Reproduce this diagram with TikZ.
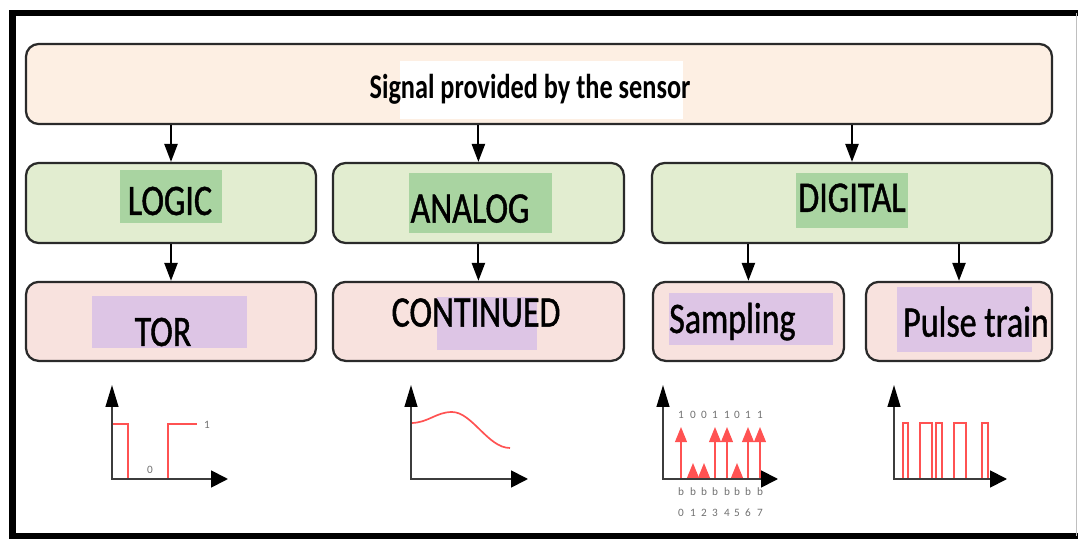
\documentclass[tikz,border=0pt]{standalone}
\usepackage{fontspec}
\setmainfont{Carlito}
\newfontfamily\boxfont[FakeStretch=0.78,FakeBold=1]{Carlito}
\newfontfamily\headfont[FakeStretch=0.76]{Carlito}
\usepackage{tikz}
\usetikzlibrary{arrows.meta}
\definecolor{peach}{HTML}{FDEFE3}
\definecolor{leaf}{HTML}{E2EDD0}
\definecolor{leafhl}{HTML}{A9D4A1}
\definecolor{rose}{HTML}{F8E2DE}
\definecolor{lilac}{HTML}{DDC5E5}
\definecolor{edge}{HTML}{2A2A2A}
\definecolor{sig}{HTML}{FF5252}
\definecolor{axisgray}{HTML}{3C3C3C}
\definecolor{tick}{HTML}{707070}

\begin{document}
\begin{tikzpicture}[
  box/.style={draw=edge, line width=1.6pt, rounded corners=9pt, inner sep=0pt},
  sigbox/.style={box, fill=peach, minimum width=25.65cm, minimum height=2cm},
  typebox/.style={box, fill=leaf, minimum height=2cm},
  formbox/.style={box, fill=rose, minimum height=1.975cm},
  lbl/.style={font=\boxfont\fontsize{31}{31}\selectfont, inner sep=0pt, anchor=base},
  link/.style={-{Triangle[length=0.45cm,width=0.33cm]}, line width=1.4pt},
  axes/.style={{Triangle[length=0.55cm,width=0.32cm,color=black]}-{Triangle[length=0.42cm,width=0.42cm,color=black]}, draw=axisgray, line width=1.3pt},
  wave/.style={draw=sig, line width=1.2pt},
  spike/.style={-{Triangle[length=0.38cm,width=0.3cm]}, draw=sig, fill=sig, line width=0.9pt},
  tiny/.style={font=\fontsize{8}{8}\selectfont, text=tick, inner sep=0pt}
]
  \useasboundingbox (0,0) rectangle (26.95,13.475);

  % Frame of the screenshot
  \draw[line width=0.17cm] (26.95,13.15) -- (0.31,13.15) -- (0.31,0.075) -- (26.95,0.075);
  \draw[gray!50, line width=0.4pt] (26.91,13.15) -- (26.91,0.075);

  % Boxes
  \node[sigbox] (signal) at (13.475,11.375) {};
  \node[typebox, minimum width=7.25cm] (logic) at (4.275,8.4) {};
  \node[typebox, minimum width=7.275cm] (analog) at (11.96,8.4) {};
  \node[typebox, minimum width=10cm] (digital) at (21.3,8.4) {};
  \node[formbox, minimum width=7.25cm] (tor) at (4.275,5.44) {};
  \node[formbox, minimum width=7.275cm] (continued) at (11.96,5.44) {};
  \node[formbox, minimum width=4.775cm] (sampling) at (18.71,5.44) {};
  \node[formbox, minimum width=4.65cm] (pulse) at (23.975,5.44) {};

  % Highlights behind the labels
  \fill[white] (10.0,10.5) rectangle (17.075,11.95);
  \fill[leafhl] (3.0,7.9) rectangle (5.55,9.225);
  \fill[leafhl] (10.225,7.65) rectangle (13.8,9.15);
  \fill[leafhl] (19.9,7.775) rectangle (22.7,9.15);
  \fill[lilac] (2.3,4.775) rectangle (6.175,6.075);
  \fill[lilac] (10.925,4.725) rectangle (13.425,6.05);
  \fill[lilac] (16.725,4.85) rectangle (20.825,6.15);
  \fill[lilac] (22.425,4.675) rectangle (25.8,6.3);

  % Labels
  \node[lbl, font=\headfont\bfseries\fontsize{24.6}{25}\selectfont] (signaltxt) at (13.25,11.0) {Signal provided by the sensor};
  \node[lbl] (logictxt) at (4.25,8.1) {LOGIC};
  \node[lbl] (analogtxt) at (11.75,7.91) {ANALOG};
  \node[lbl] (digitaltxt) at (21.3,8.18) {DIGITAL};
  \node[lbl] (tortxt) at (4.075,4.825) {TOR};
  \node[lbl] (continuedtxt) at (11.9,5.31) {CONTINUED};
  \node[lbl] (samplingtxt) at (18.31,5.15) {Sampling};
  \node[lbl] (pulsetxt) at (24.4,5.06) {Pulse train};

  % Connectors
  \draw[link] (signal.south -| logic.north) -- (logic.north);
  \draw[link] (signal.south -| analog.north) -- (analog.north);
  \draw[link] (signal.south -| digital.north) -- (digital.north);
  \draw[link] (logic.south) -- (tor.north);
  \draw[link] (analog.south) -- (continued.north);
  \draw[link] (digital.south -| sampling.north) -- (sampling.north);
  \draw[link] (digital.south -| pulse.north) -- (pulse.north);

  % TOR signal
  \draw[wave] (2.8,2.875) -- (3.2,2.875) -- (3.2,1.5) -- (4.2,1.5) -- (4.2,2.875) -- (4.925,2.875);
  \draw[axes] (2.8,3.85) |- (5.7,1.5);
  \node[tiny] (torhigh) at (5.175,2.85) {1};
  \node[tiny] (torlow) at (3.75,1.72) {0};

  % Analog signal
  \draw[wave] (10.275,2.9) .. controls (10.7,2.9) and (10.9,3.175) .. (11.3,3.175)
    .. controls (11.8,3.175) and (12.2,2.275) .. (12.75,2.275);
  \draw[axes] (10.275,3.85) |- (13.2,1.5);

  % Sampled signal
  \foreach \x/\b [count=\i from 0] in {17.025/1,17.325/0,17.6/0,17.875/1,18.175/1,18.425/0,18.7/1,19.0/1} {
    \draw[spike] (\x,1.5) -- (\x,{1.9+0.9*\b});
    \node[tiny] (bit\i) at (\x,3.1) {\b};
    \node[tiny] (b\i) at (\x,1.175) {b};
    \node[tiny] (idx\i) at (\x,0.65) {\i};
  }
  \draw[axes] (16.575,3.85) |- (19.45,1.5);

  % Pulse train
  \foreach \a/\c in {22.575/22.7,23.0/23.3,23.4/23.55,23.85/24.15,24.55/24.7}
    \draw[wave, line width=0.9pt] (\a,1.5) |- (\c,2.9) -- (\c,1.5);
  \draw[axes] (22.35,3.85) |- (25.175,1.5);
\end{tikzpicture}
\end{document}
